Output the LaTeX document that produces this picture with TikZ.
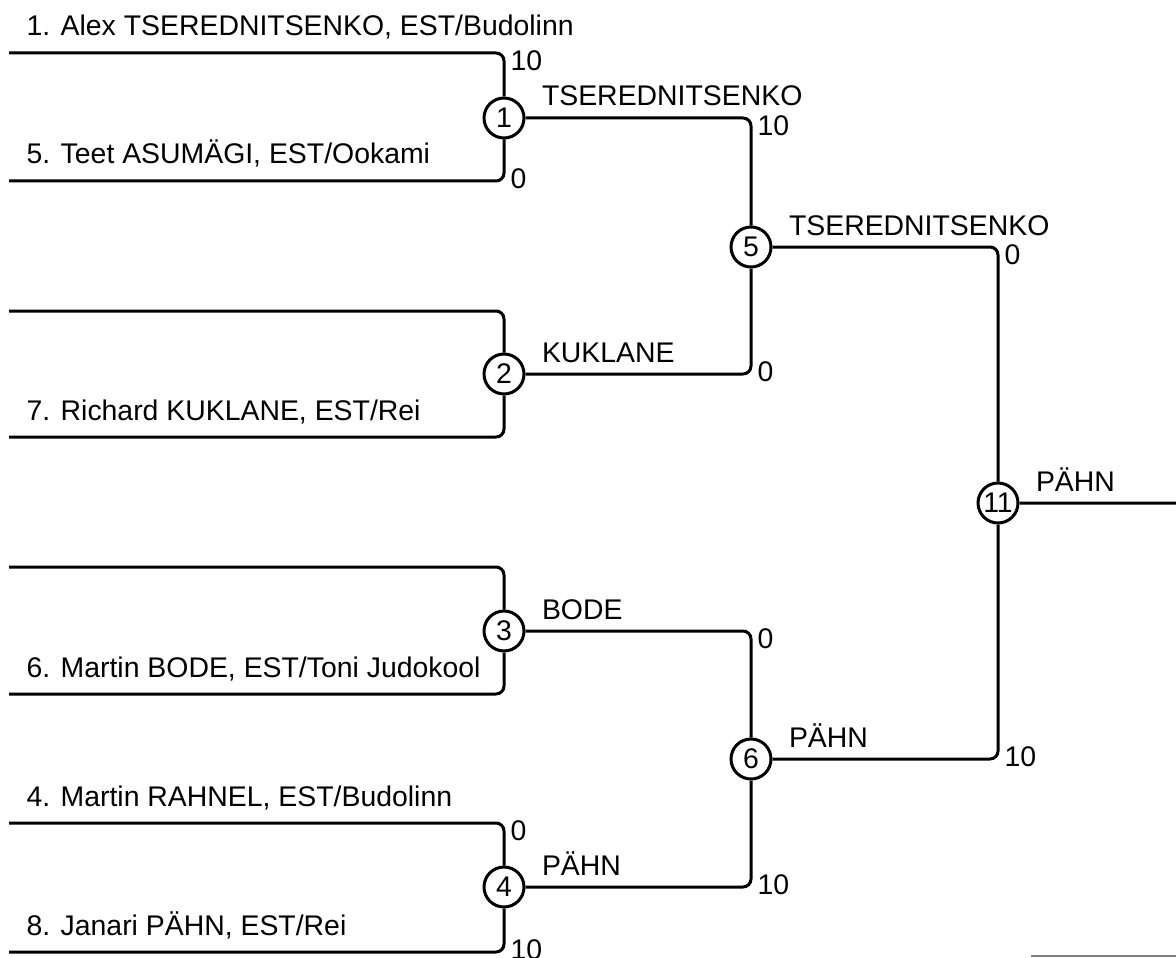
\documentclass[tikz,border=0pt]{standalone}
\usepackage{fontspec}
\setmainfont{Liberation Sans}
\tikzset{
    bout/.style={draw, circle, line width=1.5pt, minimum size=20pt, inner sep=0pt, fill=white},
    wire/.style={line width=1.5pt, rounded corners=4pt},
    entrant/.style={pos=0, anchor=base west, inner sep=0pt, xshift=8pt, yshift=8.5pt},
    winner/.style={pos=0, anchor=base west, inner sep=0pt, xshift=7.5pt, yshift=6pt},
    scoretop/.style={pos=0.5, anchor=west, inner sep=0pt, xshift=2.5pt, yshift=-4pt},
    scorebot/.style={pos=0.5, anchor=west, inner sep=0pt, xshift=2.5pt, yshift=1pt}
}

\begin{document}
\begin{tikzpicture}[x=0.5pt, y=-0.5pt, font=\fontsize{14.2pt}{16pt}\selectfont]
    \useasboundingbox (0,0) rectangle (1176,957);

    \node[bout] (b1) at (504, 118) {1};
    \node[bout] (b2) at (504, 374) {2};
    \node[bout] (b3) at (504, 631) {3};
    \node[bout] (b4) at (504, 887) {4};
    \node[bout] (b5) at (751, 247) {5};
    \node[bout] (b6) at (751, 759) {6};
    \node[bout] (b11) at (998, 503) {11};

    \coordinate (e1) at (9, 53);
    \coordinate (e2) at (9, 181);
    \coordinate (e3) at (9, 311);
    \coordinate (e4) at (9, 437);
    \coordinate (e5) at (9, 567);
    \coordinate (e6) at (9, 694);
    \coordinate (e7) at (9, 823);
    \coordinate (e8) at (9, 952);
    \coordinate (out) at (1176, 503);
    \coordinate (r1) at (1031, 956);
    \coordinate (r2) at (1176, 956);

    % first round
    \draw[wire]
    (e1) -| node[entrant] {1. Alex TSEREDNITSENKO, EST/Budolinn} node[scoretop] {10} (b1)
    (e2) -| node[entrant] {5. Teet ASUMÄGI, EST/Ookami} node[scorebot] {0} (b1)
    (e3) -| (b2)
    (e4) -| node[entrant] {7. Richard KUKLANE, EST/Rei} (b2)
    (e5) -| (b3)
    (e6) -| node[entrant] {6. Martin BODE, EST/Toni Judokool} (b3)
    (e7) -| node[entrant] {4. Martin RAHNEL, EST/Budolinn} node[scoretop] {0} (b4)
    (e8) -| node[entrant] {8. Janari PÄHN, EST/Rei} node[scorebot] {10} (b4);

    % second round
    \draw[wire]
    (b1) -| node[winner] {TSEREDNITSENKO} node[scoretop] {10} (b5)
    (b2) -| node[winner] {KUKLANE} node[scorebot] {0} (b5)
    (b3) -| node[winner] {BODE} node[scoretop] {0} (b6)
    (b4) -| node[winner] {PÄHN} node[scorebot] {10} (b6);

    % final
    \draw[wire]
    (b5) -| node[winner] {TSEREDNITSENKO} node[scoretop] {0} (b11)
    (b6) -| node[winner] {PÄHN} node[scorebot] {10} (b11)
    (b11) -- node[winner] {PÄHN} (out);

    \draw[gray, line width=0.75pt] (r1) -- (r2);
\end{tikzpicture}
\end{document}
